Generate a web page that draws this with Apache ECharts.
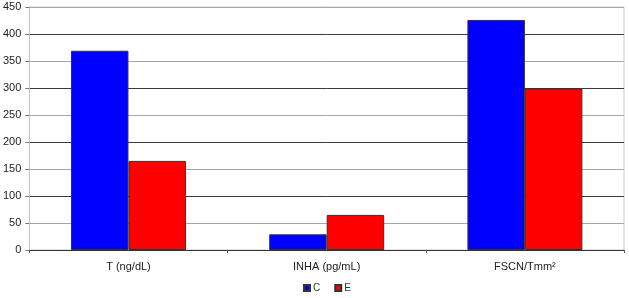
<!DOCTYPE html>
<html><head><meta charset="utf-8">
<script src="https://cdn.jsdelivr.net/npm/echarts@6/dist/echarts.min.js"></script>
<style>html,body{margin:0;padding:0;background:#fff}#c{width:629px;height:298px}</style>
</head><body><div id="c"></div>
<script>
const categories = ['T (ng/dL)', 'INHA (pg/mL)', 'FSCN/Tmm²'];
const seriesC = [369, 29, 426];
const seriesE = [165, 65, 299];
const seriesNames = ['C', 'E'];
const yTicks = [0, 50, 100, 150, 200, 250, 300, 350, 400, 450];

const chart = echarts.init(document.getElementById('c'), null, {renderer: 'canvas'});
const font = 'Liberation Sans, Arial, sans-serif';
chart.setOption({
  animation: false,
  grid: {left: 29, right: 5, top: 7, bottom: 48, show: true, borderColor: '#c8c8c8', borderWidth: 1},
  legend: {
    data: seriesNames, top: 283, left: 298, itemWidth: 6, itemHeight: 6, itemGap: 14,
    icon: 'rect', padding: [0, 5, 0, 5],
    textStyle: {fontFamily: font, fontSize: 10, color: '#333', padding: [0, 0, 0, -2]}
  },
  xAxis: {
    type: 'category', data: categories,
    axisLine: {lineStyle: {color: '#333', width: 1}},
    axisTick: {show: true, length: 3, lineStyle: {color: '#555'}},
    axisLabel: {fontFamily: font, fontSize: 11, color: '#222', margin: 11},
  },
  yAxis: {
    type: 'value', min: yTicks[0], max: yTicks[yTicks.length - 1], interval: 50,
    axisLine: {show: true, lineStyle: {color: '#c8c8c8'}},
    axisTick: {show: true, length: 4, lineStyle: {color: '#777'}},
    axisLabel: {fontFamily: font, fontSize: 11, color: '#222', margin: 8},
    splitLine: {show: true, lineStyle: {color: ['#3a3a3a', '#a6a6a6'], width: 1}}
  },
  series: [
    {name: seriesNames[0], type: 'bar', data: seriesC, barGap: '0%', barCategoryGap: '42%',
     itemStyle: {color: '#0000ff', borderColor: '#333', borderWidth: 1}},
    {name: seriesNames[1], type: 'bar', data: seriesE, barGap: '0%', barCategoryGap: '42%',
     itemStyle: {color: '#ff0000', borderColor: '#333', borderWidth: 1}}
  ]
});
</script></body></html>
